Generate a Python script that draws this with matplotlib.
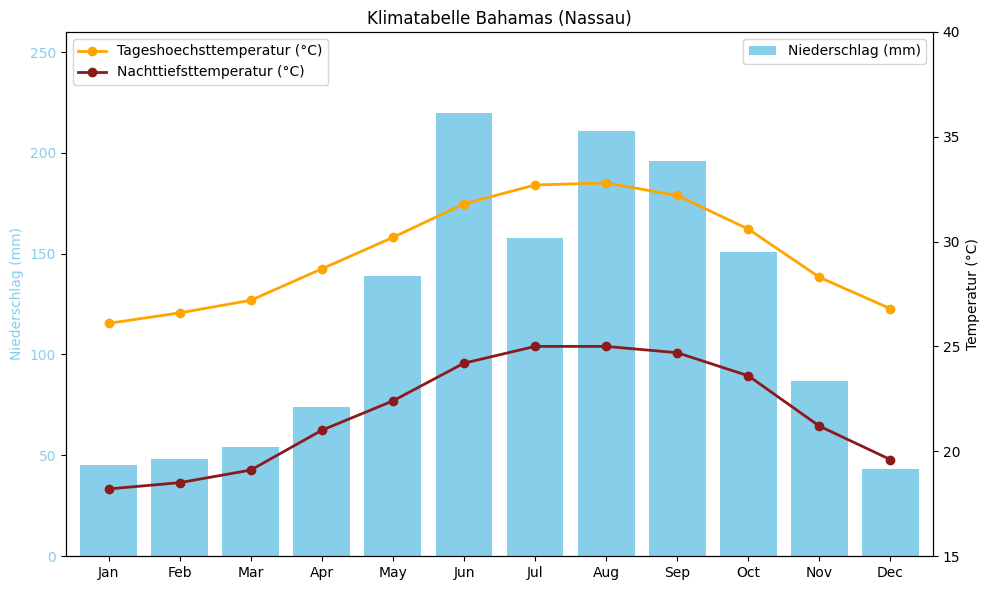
import matplotlib.pyplot as plt
import numpy as np

months = ["Jan", "Feb", "Mar", "Apr", "May", "Jun",
          "Jul", "Aug", "Sep", "Oct", "Nov", "Dec"]
niederschlag = [45, 48, 54, 74, 139, 220, 158, 211, 196, 151, 87, 43]
tag_max = [26.1, 26.6, 27.2, 28.7, 30.2, 31.8, 32.7, 32.8, 32.2, 30.6, 28.3, 26.8]
nacht_min = [18.2, 18.5, 19.1, 21.0, 22.4, 24.2, 25.0, 25.0, 24.7, 23.6, 21.2, 19.6]

x = np.arange(len(months))

fig, ax1 = plt.subplots(figsize=(9.89, 5.9), dpi=100)

ax1.bar(x, niederschlag, color="skyblue", label="Niederschlag (mm)")
ax1.set_ylabel("Niederschlag (mm)", color="skyblue")
ax1.tick_params(axis="y", labelcolor="skyblue")
ax1.set_ylim(0, 260)
ax1.set_xticks(x)
ax1.set_xticklabels(months)
ax1.set_xlim(-0.6, 11.6)

ax2 = ax1.twinx()
ax2.plot(x, tag_max, color="orange", marker="o", linewidth=2,
         label="Tageshoechsttemperatur (°C)")
ax2.plot(x, nacht_min, color="#8B1A1A", marker="o", linewidth=2,
         label="Nachttiefsttemperatur (°C)")
ax2.set_ylabel("Temperatur (°C)")
ax2.set_ylim(15, 40)

ax2.legend(loc="upper left")
ax1.legend(loc="upper right")

plt.title("Klimatabelle Bahamas (Nassau)")
fig.subplots_adjust(left=0.0667, right=0.9434, top=0.9458, bottom=0.0576)
plt.savefig("out.png")
